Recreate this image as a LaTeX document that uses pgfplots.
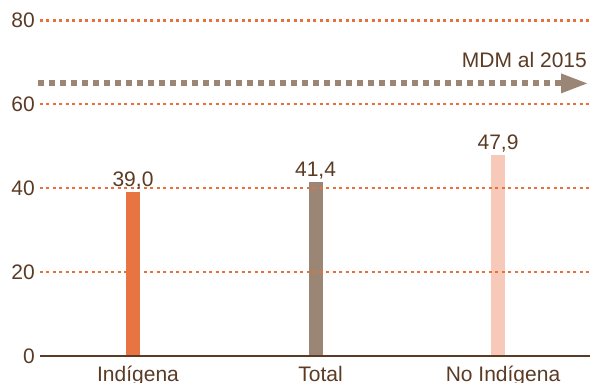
\documentclass[border=0pt]{standalone}
\usepackage{fontspec}
\setmainfont{Liberation Sans}
\usepackage{pgfplots}
\pgfplotsset{compat=1.18}
\usetikzlibrary{arrows.meta}

\definecolor{gridorange}{HTML}{E8703A}
\definecolor{barind}{HTML}{E87442}
\definecolor{bartot}{HTML}{9B8676}
\definecolor{barnoind}{HTML}{F6C9B9}
\definecolor{textbrown}{HTML}{5B3B24}
\definecolor{arrowgrey}{HTML}{9B8676}

\newcommand{\chartfont}{\fontsize{21pt}{24pt}\selectfont}

\begin{document}
\chartfont
\begin{tikzpicture}
\useasboundingbox (-40pt,-27pt) rectangle (550pt,356pt);
\begin{axis}[
  scale only axis,
  width=550pt, height=335.5pt,
  xmin=-0.5096, xmax=2.504,
  ymin=0, ymax=80,
  clip=false,
  axis on top,
  axis x line*=bottom,
  axis y line*=left,
  x axis line style={draw=textbrown, line width=2.2pt, -},
  y axis line style={draw=none},
  major tick length=0pt,
  tick style={draw=none},
  xtick={0,1,2},
  xticklabels={Indígena,Total,No Indígena},
  ytick={0,20,40,60,80},
  ymajorgrids,
  major grid style={draw=gridorange, line width=2.2pt, dash pattern=on 3pt off 3.5pt},
  /pgf/number format/assume math mode=true,
  tick label style={font=\chartfont, text=textbrown},
  yticklabel style={anchor=east, inner sep=0pt, xshift=-5pt},
  xticklabel style={anchor=base, inner sep=0pt, yshift=-25.7pt, xshift=5pt},
  every node near coord/.append style={font=\chartfont, text=textbrown, anchor=base, inner sep=0pt, yshift=6pt},
]
% bars, one per group
\addplot[ybar, bar width=14pt, bar shift=0pt, fill=barind, draw=none,
  nodes near coords={\pgfmathprintnumber[fixed,fixed zerofill,precision=1,use comma,assume math mode=true]{\pgfplotspointmeta}}]
  coordinates {(0,39.0)};
\addplot[ybar, bar width=14pt, bar shift=0pt, fill=bartot, draw=none,
  nodes near coords={\pgfmathprintnumber[fixed,fixed zerofill,precision=1,use comma,assume math mode=true]{\pgfplotspointmeta}}]
  coordinates {(1,41.4)};
\addplot[ybar, bar width=14pt, bar shift=0pt, fill=barnoind, draw=none,
  nodes near coords={\pgfmathprintnumber[fixed,fixed zerofill,precision=1,use comma,assume math mode=true]{\pgfplotspointmeta}}]
  coordinates {(2,47.9)};
% target arrow
\addplot[draw=arrowgrey, line width=6pt, dash pattern=on 6pt off 5pt,
  -{Triangle[length=26pt,width=20pt,line width=0pt]}]
  coordinates {(-0.52,65) (2.488,65)};
\node[anchor=base east, inner sep=0pt, text=textbrown, font=\chartfont]
  at (axis cs:2.488,68.9) {MDM al 2015};
\end{axis}
\end{tikzpicture}
\end{document}
